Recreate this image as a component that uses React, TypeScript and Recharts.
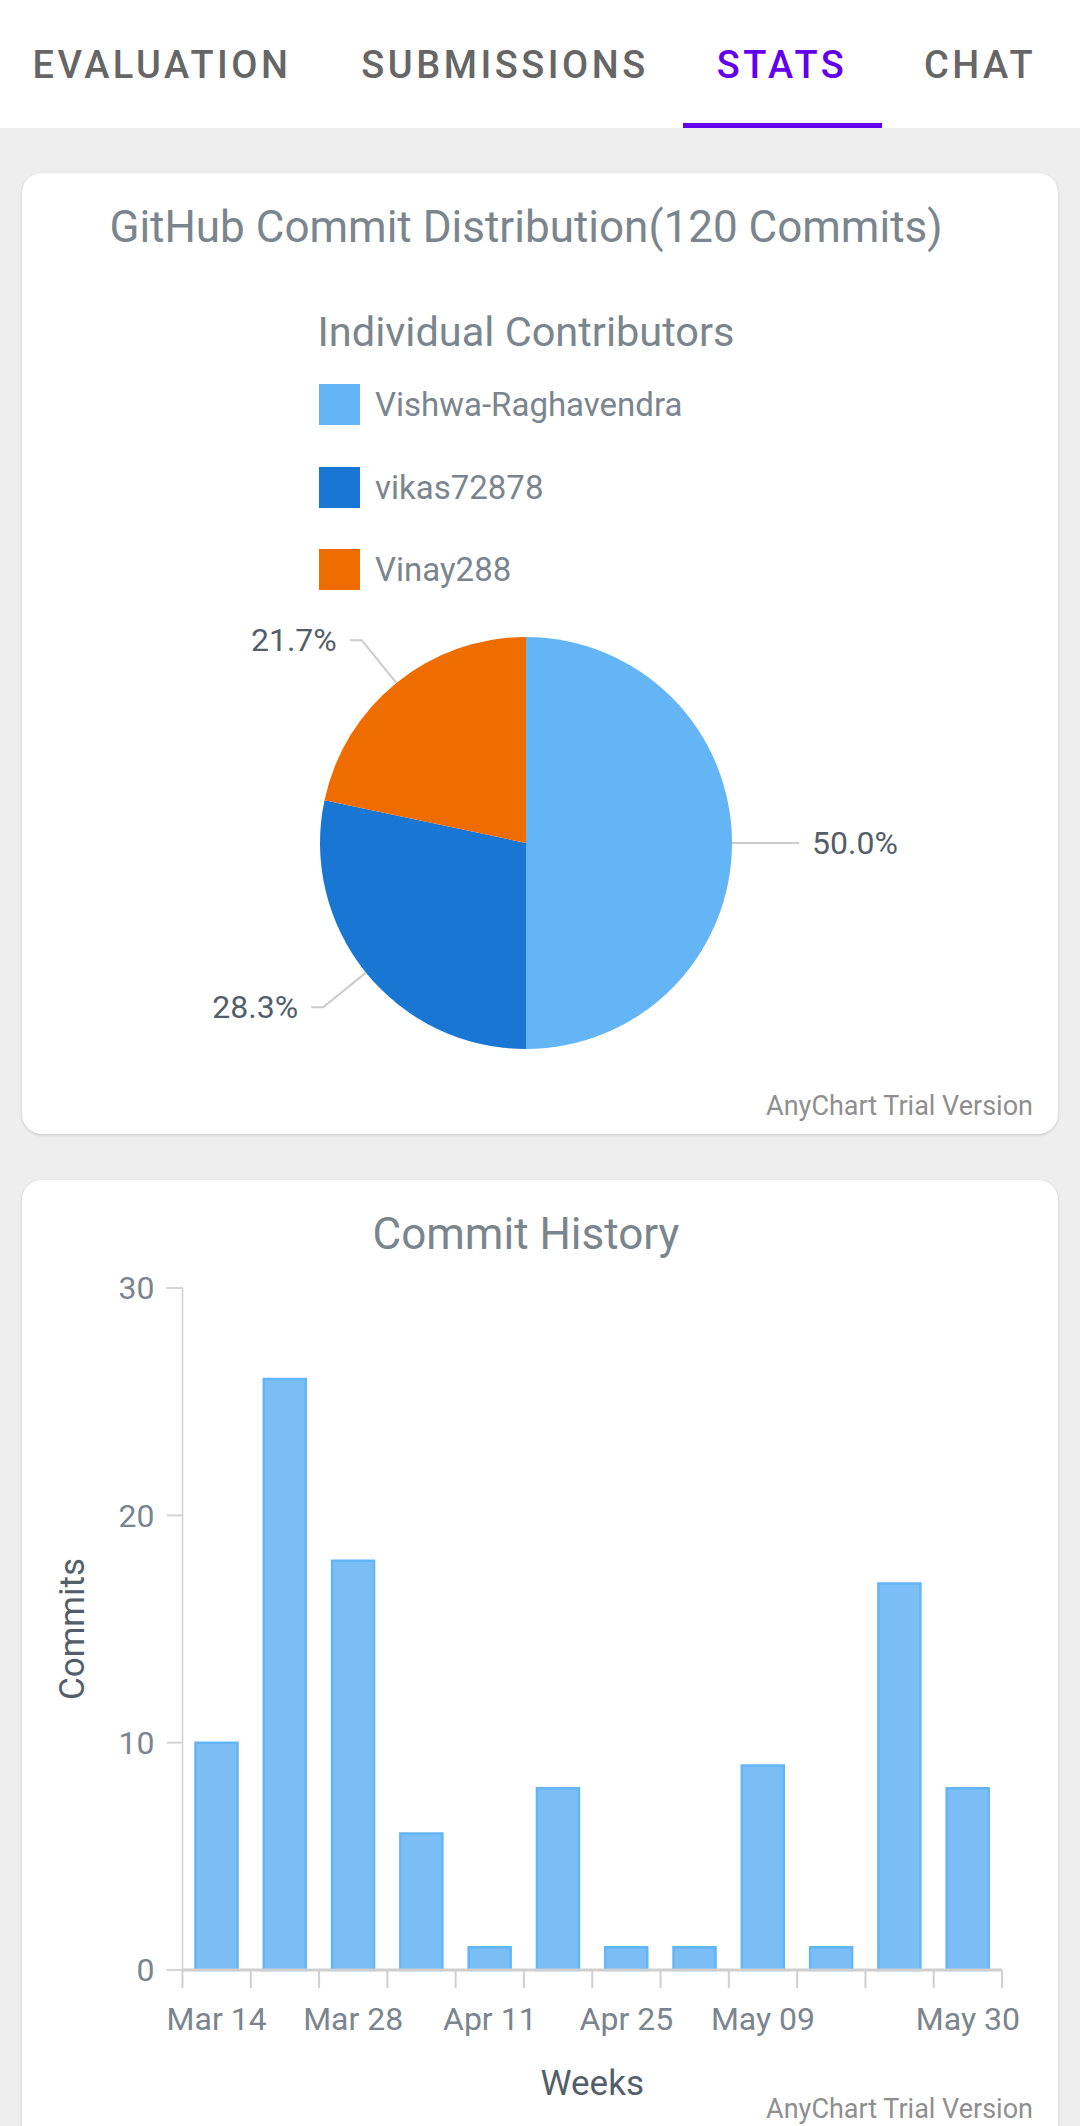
import React from "react";
import { PieChart, Pie, Cell, BarChart, Bar, XAxis, YAxis } from "recharts";

// contributors pie
const CONTRIBUTORS = ["Vishwa-Raghavendra", "vikas72878", "Vinay288"];
const CONTRIBUTOR_COMMITS = [60, 34, 26];
const CONTRIBUTOR_COLORS = ["#64b5f6", "#1976d2", "#ef6c00"];

// weekly history
const WEEKS = [
  "Mar 14", "Mar 21", "Mar 28", "Apr 04", "Apr 11", "Apr 18",
  "Apr 25", "May 02", "May 09", "May 16", "May 23", "May 30",
];
const WEEKLY_COMMITS = [10, 26, 18, 6, 1, 8, 1, 1, 9, 1, 17, 8];
const SHOWN_WEEK_LABELS = ["Mar 14", "Mar 28", "Apr 11", "Apr 25", "May 09", "May 30"];
const COMMIT_TICKS = [0, 10, 20, 30];

const TABS = ["EVALUATION", "SUBMISSIONS", "STATS", "CHAT"];
const TAB_CENTERS = [162, 505, 782, 980];
const ACTIVE_TAB = "STATS";

const FONT = "Roboto, 'Noto Sans', sans-serif";
const TITLE_COLOR = "#7b858e";
const LABEL_COLOR = "#545e68";

const pieData = CONTRIBUTORS.map((name, i) => ({
  name,
  value: CONTRIBUTOR_COMMITS[i],
  color: CONTRIBUTOR_COLORS[i],
}));

const barData = WEEKS.map((week, i) => ({ week, commits: WEEKLY_COMMITS[i] }));

function PieLabel({ cx, cy, midAngle, outerRadius, percent }: any) {
  const rad = Math.PI / 180;
  const c = Math.cos(-midAngle * rad);
  const s = Math.sin(-midAngle * rad);
  const sx = cx + outerRadius * c;
  const sy = cy + outerRadius * s;
  const mx = cx + (outerRadius + 55) * c;
  const my = cy + (outerRadius + 55) * s;
  const dir = c >= -0.0001 ? 1 : -1;
  const ex = mx + dir * 12;
  return (
    <g>
      <path
        d={`M${sx},${sy}L${mx},${my}L${ex},${my}`}
        stroke="#cccccc"
        strokeWidth={2}
        fill="none"
      />
      <text
        x={ex + dir * 13}
        y={my}
        textAnchor={dir > 0 ? "start" : "end"}
        dominantBaseline="central"
        fill={LABEL_COLOR}
        fontSize={32}
        fontFamily={FONT}
      >
        {(percent * 100).toFixed(1)}%
      </text>
    </g>
  );
}

function WeekTick({ x, y, payload, index }: any) {
  const half = payload?.offset || 34.15;
  const label = SHOWN_WEEK_LABELS.includes(payload.value) ? payload.value : "";
  return (
    <g>
      <line x1={x - half} x2={x - half} y1={y} y2={y + 18} stroke="#d0d0d0" strokeWidth={2} />
      {index === WEEKS.length - 1 && (
        <line x1={x + half} x2={x + half} y1={y} y2={y + 18} stroke="#d0d0d0" strokeWidth={2} />
      )}
      <text x={x} y={y + 60} textAnchor="middle" fill={TITLE_COLOR} fontSize={32} fontFamily={FONT}>
        {label}
      </text>
    </g>
  );
}

function CommitsLabel({ viewBox }: any) {
  const vx = viewBox?.x ?? 0;
  const vy = viewBox?.y ?? 108;
  const vh = viewBox?.height ?? 682;
  const cx = vx + 50;
  const cy = vy + vh / 2;
  return (
    <text
      x={cx}
      y={cy}
      transform={`rotate(-90 ${cx} ${cy})`}
      textAnchor="middle"
      dominantBaseline="central"
      fill={LABEL_COLOR}
      fontSize={35}
      fontFamily={FONT}
    >
      Commits
    </text>
  );
}

const card: React.CSSProperties = {
  position: "absolute",
  left: 22,
  width: 1036,
  background: "#ffffff",
  borderRadius: 20,
  boxShadow: "0 1px 3px rgba(0,0,0,0.18)",
};

const watermark: React.CSSProperties = {
  position: "absolute",
  right: 25,
  fontSize: 27,
  lineHeight: "27px",
  color: "#8f8f8f",
  whiteSpace: "nowrap",
};

export default function App() {
  return (
    <div
      style={{
        position: "absolute",
        left: 0,
        top: 0,
        width: 1080,
        height: 2126,
        overflow: "hidden",
        background: "#eeeeee",
        fontFamily: FONT,
      }}
    >
      {/* tab bar */}
      <div style={{ position: "absolute", left: 0, top: 0, width: 1080, height: 128, background: "#fff" }}>
        {TABS.map((t, i) => (
          <div
            key={t}
            style={{
              position: "absolute",
              left: TAB_CENTERS[i] - 170,
              width: 340,
              top: 46,
              textAlign: "center",
              fontSize: 38,
              lineHeight: "38px",
              fontWeight: 500,
              letterSpacing: 3.5,
              color: t === ACTIVE_TAB ? "#6200ee" : "#666666",
            }}
          >
            {t}
          </div>
        ))}
        <div style={{ position: "absolute", left: 683, top: 123, width: 199, height: 5, background: "#6200ee" }} />
      </div>

      {/* contributors card */}
      <div style={{ ...card, top: 173, height: 961 }}>
        <div
          style={{
            position: "absolute",
            left: 0,
            width: 1008,
            top: 32,
            textAlign: "center",
            fontSize: 44,
            lineHeight: "44px",
            color: TITLE_COLOR,
          }}
        >
          GitHub Commit Distribution(120 Commits)
        </div>
        <div
          style={{
            position: "absolute",
            left: 0,
            width: 1008,
            top: 138,
            textAlign: "center",
            fontSize: 41.5,
            lineHeight: "42px",
            color: TITLE_COLOR,
          }}
        >
          Individual Contributors
        </div>
        {pieData.map((d, i) => (
          <div
            key={d.name}
            style={{ position: "absolute", left: 297, top: 211 + i * 82.5, height: 41, display: "flex", alignItems: "center" }}
          >
            <div style={{ width: 41, height: 41, background: d.color }} />
            <div style={{ marginLeft: 15, fontSize: 33, color: "#7b858e", whiteSpace: "nowrap" }}>{d.name}</div>
          </div>
        ))}
        <PieChart
          width={1036}
          height={961}
          margin={{ top: 0, right: 0, bottom: 0, left: 0 }}
          style={{ position: "absolute", left: 0, top: 0 }}
        >
          <Pie
            data={pieData}
            dataKey="value"
            nameKey="name"
            cx={504}
            cy={670}
            outerRadius={206}
            startAngle={90}
            endAngle={-270}
            stroke="none"
            label={PieLabel}
            labelLine={false}
            isAnimationActive={false}
          >
            {pieData.map((d) => (
              <Cell key={d.name} fill={d.color} />
            ))}
          </Pie>
        </PieChart>
        <div style={{ ...watermark, top: 920 }}>AnyChart Trial Version</div>
      </div>

      {/* history card */}
      <div style={{ ...card, top: 1180, height: 1100 }}>
        <div
          style={{
            position: "absolute",
            left: 0,
            width: 1008,
            top: 32,
            textAlign: "center",
            fontSize: 44,
            lineHeight: "44px",
            color: TITLE_COLOR,
          }}
        >
          Commit History
        </div>
        <BarChart
          width={1036}
          height={946}
          data={barData}
          margin={{ top: 108, right: 56, bottom: 0, left: 0 }}
          barCategoryGap="19%"
          style={{ position: "absolute", left: 0, top: 0 }}
        >
          <YAxis
            width={160.5}
            domain={[0, 30]}
            ticks={COMMIT_TICKS}
            tickSize={16}
            tickMargin={12}
            axisLine={{ stroke: "#d0d0d0", strokeWidth: 1.5 }}
            tickLine={{ stroke: "#d5d5d5", strokeWidth: 2 }}
            tick={{ fill: TITLE_COLOR, fontSize: 32, fontFamily: FONT }}
            label={{ content: <CommitsLabel /> }}
          />
          <XAxis
            dataKey="week"
            height={156}
            interval={0}
            tickSize={0}
            tickMargin={0}
            tickLine={false}
            axisLine={{ stroke: "#cfcfcf", strokeWidth: 3 }}
            tick={<WeekTick />}
            label={{
              value: "Weeks",
              position: "insideBottom",
              offset: 31,
              fill: LABEL_COLOR,
              fontSize: 35,
              fontFamily: FONT,
            }}
          />
          <Bar dataKey="commits" fill="#7bbef6" stroke="#64b5f6" strokeWidth={2.5} isAnimationActive={false} />
        </BarChart>
        <div style={{ ...watermark, top: 916 }}>AnyChart Trial Version</div>
      </div>
    </div>
  );
}
